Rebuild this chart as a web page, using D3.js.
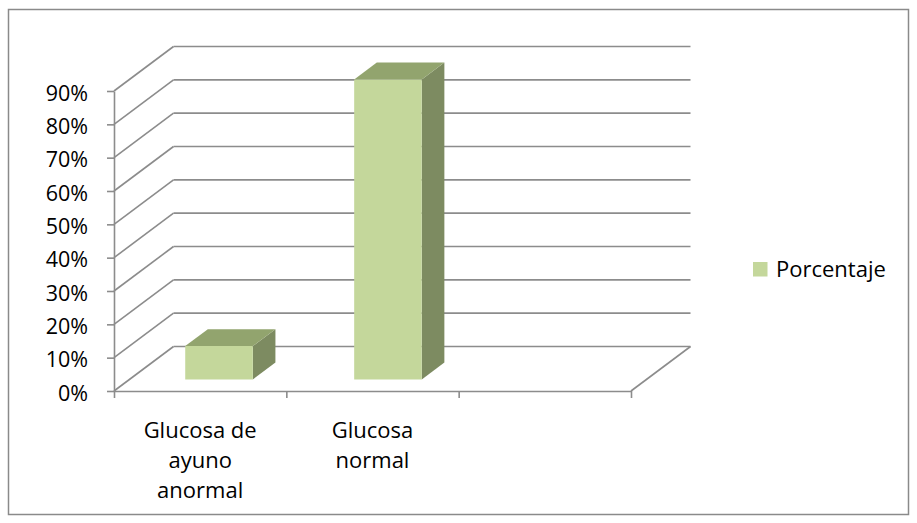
<!DOCTYPE html>
<html>
<head>
<meta charset="utf-8">
<script src="https://cdn.jsdelivr.net/npm/d3@7"></script>
<style>
  html, body { margin: 0; padding: 0; background: #ffffff; }
  svg { display: block; }
  text { font-family: "Open Sans", sans-serif; fill: #000; }
</style>
</head>
<body>
<svg id="chart" width="917" height="523"></svg>
<script>
// Category keys, wrapped label lines and percentage values
const categories = ["ayuno", "normal", "vacio"];
const categoryLabels = [["Glucosa de", "ayuno", "anormal"], ["Glucosa", "normal"], []];
const values = [10, 90, null];
const yTicks = [0, 10, 20, 30, 40, 50, 60, 70, 80, 90];
const seriesName = "Porcentaje";

const svg = d3.select("#chart");

// chart frame
svg.append("rect")
  .attr("x", 8.5).attr("y", 9.5)
  .attr("width", 900).attr("height", 505)
  .attr("fill", "#fff").attr("stroke", "#8a8a8a").attr("stroke-width", 1.5);

// front plane scales
const plotLeft = 114, plotRight = 631;
const y = d3.scaleLinear().domain([0, 90]).range([391, 91]);
const x = d3.scaleBand().domain(categories).range([plotLeft, plotRight])
  .paddingInner(0.6).paddingOuter(0.33);
const xEdge = d3.scaleLinear().domain([0, categories.length]).range([plotLeft, plotRight]);

// oblique depth vector
const depthX = 59.5, depthY = -44.5;
const P = (px, v, z) => [px + z * depthX, y(v) + z * depthY];

const gridColor = "#8c8c8c";
const grid = svg.append("g").attr("stroke", gridColor).attr("stroke-width", 1.6).attr("fill", "none");

// back wall horizontal gridlines
grid.selectAll("line.back").data(yTicks).join("line")
  .attr("class", "back")
  .attr("x1", plotLeft + depthX).attr("x2", plotRight + depthX)
  .attr("y1", d => y(d) + depthY).attr("y2", d => y(d) + depthY);

// side wall diagonals
grid.selectAll("line.side").data(yTicks).join("line")
  .attr("class", "side")
  .attr("x1", plotLeft).attr("y1", d => y(d))
  .attr("x2", plotLeft + depthX).attr("y2", d => y(d) + depthY);

// floor right edge
grid.append("line")
  .attr("x1", plotRight).attr("y1", y(0))
  .attr("x2", plotRight + depthX).attr("y2", y(0) + depthY);

// y axis
const yAxis = svg.append("g")
  .attr("transform", `translate(${plotLeft},0)`)
  .call(d3.axisLeft(y).tickValues(yTicks).tickSize(7).tickSizeOuter(0).tickFormat(d => d + "%"));
yAxis.selectAll("path, line").attr("stroke", gridColor).attr("stroke-width", 1.6);
yAxis.selectAll("text")
  .attr("x", -26).attr("dy", "0.42em")
  .style("font-family", "Open Sans").style("font-size", "21.5px").attr("fill", "#000");

// x axis (category boundaries)
const xAxis = svg.append("g")
  .attr("transform", `translate(0,${y(0)})`)
  .call(d3.axisBottom(xEdge).tickValues(d3.range(categories.length + 1)).tickSize(7).tickSizeOuter(0).tickFormat(""));
xAxis.selectAll("path, line").attr("stroke", gridColor).attr("stroke-width", 1.6);

// category labels, centred on each category slot
const lineH = 30;
categories.forEach((c, i) => {
  const cx = (xEdge(i) + xEdge(i + 1)) / 2;
  svg.append("text")
    .attr("text-anchor", "middle")
    .style("font-size", "22px")
    .selectAll("tspan").data(categoryLabels[i]).join("tspan")
    .attr("x", cx)
    .attr("y", (d, j) => 438 + j * lineH)
    .text(d => d);
});

// 3D columns
const z0 = 0.26, z1 = 0.64;
const colors = { front: "#c4d79b", top: "#92a46e", side: "#7d8b61" };
const bars = svg.append("g");
const pts = arr => arr.map(p => p.join(",")).join(" ");
categories.forEach((c, i) => {
  const v = values[i];
  if (v == null) return;
  const x0 = x(c), x1 = x(c) + x.bandwidth();
  const g = bars.append("g");
  g.append("polygon").attr("fill", colors.side)
    .attr("points", pts([P(x1, 0, z0), P(x1, 0, z1), P(x1, v, z1), P(x1, v, z0)]));
  g.append("polygon").attr("fill", colors.top)
    .attr("points", pts([P(x0, v, z0), P(x1, v, z0), P(x1, v, z1), P(x0, v, z1)]));
  g.append("polygon").attr("fill", colors.front)
    .attr("points", pts([P(x0, 0, z0), P(x1, 0, z0), P(x1, v, z0), P(x0, v, z0)]));
});

// legend
const legend = svg.append("g").attr("transform", "translate(753,262)");
legend.append("rect").attr("width", 14.5).attr("height", 14.5).attr("fill", colors.front);
legend.append("text").attr("x", 23).attr("y", 7.5).attr("dy", "0.36em")
  .style("font-size", "22px").text(seriesName);
</script>
</body>
</html>
